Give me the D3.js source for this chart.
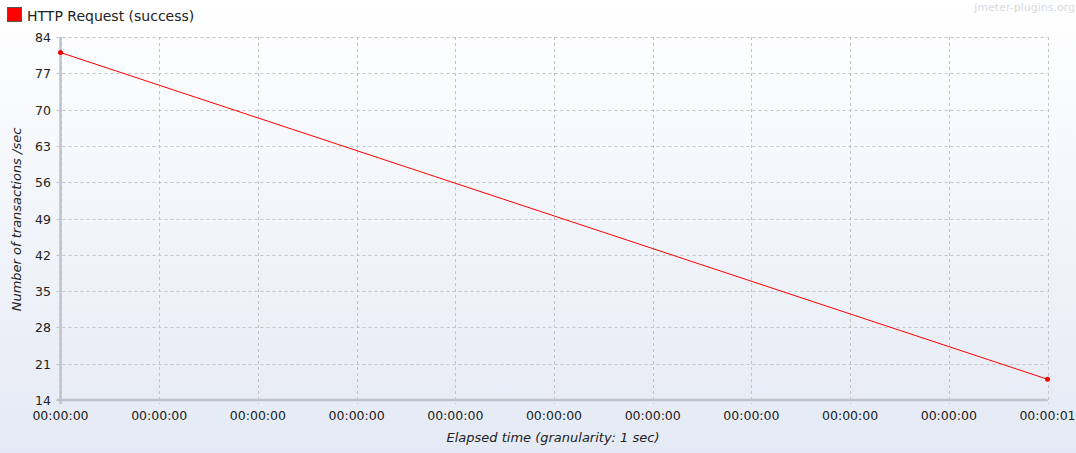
<!DOCTYPE html>
<html><head><meta charset="utf-8">
<script src="https://cdn.jsdelivr.net/npm/d3@7"></script>
<style>
html,body{margin:0;padding:0;background:#fff;}
svg{display:block;font-family:"DejaVu Sans",Arial,sans-serif;}
</style></head>
<body>
<svg id="c" width="1076" height="453"></svg>
<script>
const seriesName = "HTTP Request (success)";
const timesSec = [0, 1];
const values = [81, 18];
const yTicks = [14, 21, 28, 35, 42, 49, 56, 63, 70, 77, 84];
const xTicks = [0, 0.1, 0.2, 0.3, 0.4, 0.5, 0.6, 0.7, 0.8, 0.9, 1.0];
const yTitle = "Number of transactions /sec";
const xTitle = "Elapsed time (granularity: 1 sec)";
const watermark = "jmeter-plugins.org";

const W = 1076, H = 453;
const m = {l: 60.5, r: 1047.5, t: 37, b: 400};
const svg = d3.select("#c");

const defs = svg.append("defs");
const g1 = defs.append("linearGradient").attr("id","bg").attr("x1",0).attr("y1",0).attr("x2",0).attr("y2",1);
g1.append("stop").attr("offset","0%").attr("stop-color","#ffffff");
g1.append("stop").attr("offset","100%").attr("stop-color","#e4eaf5");
svg.append("rect").attr("width",W).attr("height",H).attr("fill","url(#bg)");

const x = d3.scaleLinear().domain([0,1]).range([m.l, m.r]);
const y = d3.scaleLinear().domain([14,84]).range([m.b, m.t]);

// grid
const grid = svg.append("g");
grid.selectAll("line.h").data(yTicks).join("line")
  .attr("x1", m.l-4).attr("x2", m.r).attr("y1", d=>Math.round(y(d))+0.5).attr("y2", d=>Math.round(y(d))+0.5)
  .attr("stroke","#c4c4c8").attr("stroke-width",1).attr("stroke-dasharray","3,3");
grid.selectAll("line.v").data(xTicks).join("line")
  .attr("x1", d=>Math.round(x(d))+0.5).attr("x2", d=>Math.round(x(d))+0.5).attr("y1", m.t).attr("y2", m.b+4)
  .attr("stroke","#c4c4c8").attr("stroke-width",1).attr("stroke-dasharray","3,3");

// axes lines
svg.append("line").attr("x1",m.l).attr("x2",m.l).attr("y1",m.t).attr("y2",m.b+4)
  .attr("stroke","#bfc3cc").attr("stroke-width",2.5);
svg.append("line").attr("x1",m.l-4).attr("x2",m.r).attr("y1",m.b).attr("y2",m.b)
  .attr("stroke","#bfc3cc").attr("stroke-width",2.5);

// y labels
svg.append("g").selectAll("text").data(yTicks).join("text")
  .attr("x", 51).attr("y", d=>y(d)+5).attr("text-anchor","end")
  .attr("font-size",12.5).attr("fill","#222").text(d=>d);

// x labels
const fmt = s => { const t = Math.floor(s + 1e-9); const hh = Math.floor(t/3600), mm = Math.floor(t/60)%60, ss = t%60;
  return [hh,mm,ss].map(v=>String(v).padStart(2,"0")).join(":"); };
svg.append("g").selectAll("text").data(xTicks).join("text")
  .attr("x", d=>x(d)).attr("y", 420).attr("text-anchor","middle")
  .attr("font-size",12.5).attr("fill","#222").text(d=>fmt(d));

// titles
svg.append("text").attr("x", (m.l+m.r)/2 - 1).attr("y", 442).attr("text-anchor","middle")
  .attr("font-size",13).attr("font-style","italic").attr("fill","#222").text(xTitle);
svg.append("text").attr("transform",`translate(21,${(m.t+m.b)/2 + 1}) rotate(-90)`).attr("text-anchor","middle")
  .attr("font-size",13).attr("font-style","italic").attr("fill","#222").text(yTitle);

// line
const line = d3.line().x((d,i)=>x(timesSec[i])).y(d=>y(d));
svg.append("path").datum(values).attr("d", line).attr("fill","none").attr("stroke","#ff0000").attr("stroke-width",1);
svg.append("g").selectAll("circle").data(values).join("circle")
  .attr("cx",(d,i)=>x(timesSec[i])).attr("cy",d=>y(d)).attr("r",2.5).attr("fill","#ff0000");

// legend
svg.append("rect").attr("x",7.5).attr("y",7.5).attr("width",14).attr("height",14)
  .attr("fill","#ff0000").attr("stroke","#555").attr("stroke-width",1);
svg.append("text").attr("x",27).attr("y",21).attr("font-size",14).attr("fill","#222").text(seriesName);

// watermark
svg.append("text").attr("x",1075).attr("y",11).attr("text-anchor","end")
  .attr("font-size",11).attr("fill","#d8dade").text(watermark);
</script>
</body></html>
